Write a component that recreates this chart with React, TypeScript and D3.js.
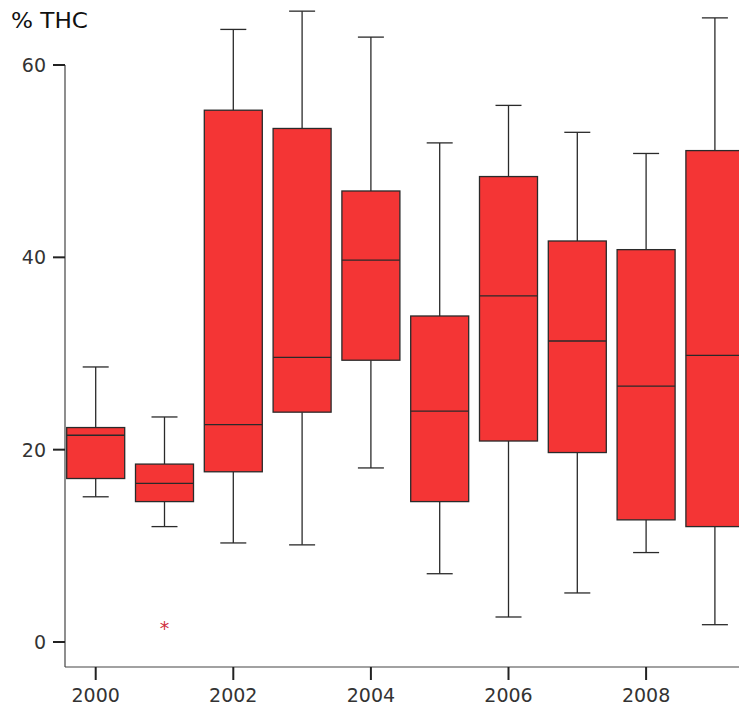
import React from "react";
import * as d3 from "d3";

// Yearly THC content distribution (boxplot summary statistics)
const years = [2000, 2001, 2002, 2003, 2004, 2005, 2006, 2007, 2008, 2009];
const whiskerLow = [15.1, 12.0, 10.3, 10.1, 18.1, 7.1, 2.6, 5.1, 9.3, 1.8];
const q1 = [17.0, 14.6, 17.7, 23.9, 29.3, 14.6, 20.9, 19.7, 12.7, 12.0];
const median = [21.5, 16.5, 22.6, 29.6, 39.7, 24.0, 36.0, 31.3, 26.6, 29.8];
const q3 = [22.3, 18.5, 55.3, 53.4, 46.9, 33.9, 48.4, 41.7, 40.8, 51.1];
const whiskerHigh = [28.6, 23.4, 63.7, 65.6, 62.9, 51.9, 55.8, 53.0, 50.8, 64.9];
const outliers = [{ year: 2001, value: 1.7 }];
const yTicks = [0, 20, 40, 60];
const xTicks = [2000, 2002, 2004, 2006, 2008];

const W = 739;
const H = 706;
const FONT = "'DejaVu Sans', Verdana, sans-serif";
const FILL = "#f43535";
const STROKE = "#2a2a2a";

export default function App() {
  const x = d3.scaleLinear().domain([2000, 2009]).range([95.7, 714.9]);
  const y = d3.scaleLinear().domain([0, 60]).range([642, 65]);
  const boxW = 58;
  const capW = 26;
  const axisX = 65;
  const axisY = 667;

  return (
    <svg
      width={W}
      height={H}
      style={{ position: "absolute", left: 0, top: 0, background: "#fff" }}
      fontFamily={FONT}
    >
      <text x={11} y={28} fontSize={21} fill="#111" textLength={77} lengthAdjust="spacingAndGlyphs">
        % THC
      </text>

      {/* boxes */}
      {years.map((yr, i) => {
        const cx = x(yr);
        return (
          <g key={yr} stroke={STROKE} strokeWidth={1.3}>
            <line x1={cx} x2={cx} y1={y(whiskerHigh[i])} y2={y(q3[i])} />
            <line x1={cx} x2={cx} y1={y(q1[i])} y2={y(whiskerLow[i])} />
            <line x1={cx - capW / 2} x2={cx + capW / 2} y1={y(whiskerHigh[i])} y2={y(whiskerHigh[i])} />
            <line x1={cx - capW / 2} x2={cx + capW / 2} y1={y(whiskerLow[i])} y2={y(whiskerLow[i])} />
            <rect
              x={cx - boxW / 2}
              y={y(q3[i])}
              width={boxW}
              height={y(q1[i]) - y(q3[i])}
              fill={FILL}
            />
            <line x1={cx - boxW / 2} x2={cx + boxW / 2} y1={y(median[i])} y2={y(median[i])} />
          </g>
        );
      })}

      {outliers.map((o, i) => (
        <text
          key={i}
          x={x(o.year)}
          y={y(o.value) + 9}
          fontSize={19}
          fill="#d03040"
          textAnchor="middle"
        >
          *
        </text>
      ))}

      {/* axes */}
      <line x1={axisX} x2={axisX} y1={y(60)} y2={axisY} stroke="#444" strokeWidth={1.2} />
      <line x1={axisX} x2={W} y1={axisY} y2={axisY} stroke="#444" strokeWidth={1.2} />
      {yTicks.map((t) => (
        <g key={t}>
          <line x1={axisX - 12} x2={axisX} y1={y(t)} y2={y(t)} stroke="#222" strokeWidth={2} />
          <text
            x={46}
            y={y(t)}
            dy="0.36em"
            fontSize={19}
            textAnchor="end"
            fill="#333"
          >
            {t}
          </text>
        </g>
      ))}
      {xTicks.map((t) => (
        <g key={t}>
          <line x1={x(t)} x2={x(t)} y1={axisY} y2={axisY + 13} stroke="#222" strokeWidth={2} />
          <text x={x(t)} y={702} fontSize={19} textAnchor="middle" fill="#333">
            {t}
          </text>
        </g>
      ))}
    </svg>
  );
}
